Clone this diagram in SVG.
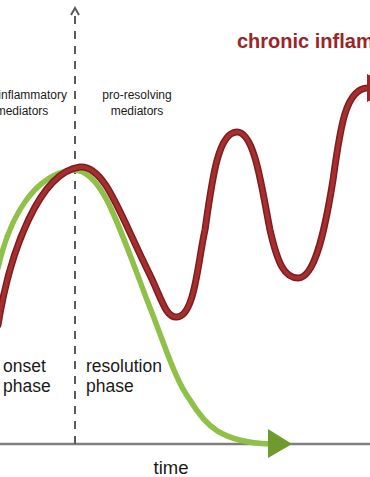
<svg xmlns="http://www.w3.org/2000/svg" width="370" height="477" viewBox="0 0 370 477">
<style>
.lbl{font-family:"Liberation Sans",Arial,sans-serif;fill:#1a1a1a;}
.small{font-size:12px;text-anchor:middle;}
.phase{font-size:17.5px;}
.title{font-family:"Liberation Sans",Arial,sans-serif;font-size:20px;font-weight:bold;fill:#9b2528;}
.redo{fill:none;stroke:#7e1c1e;stroke-width:7;stroke-linecap:round;}
.redi{fill:none;stroke:#a52e2f;stroke-width:4;stroke-linecap:round;}
.green{fill:none;stroke:#8fc149;stroke-width:5.5;stroke-linecap:round;}
</style>
<rect width="370" height="477" fill="#ffffff"/>
<g id="axes">
<line x1="0" y1="444" x2="370" y2="444" stroke="#7f7f7f" stroke-width="2.5"/>
<line x1="75" y1="444" x2="75" y2="12" stroke="#5a5a5a" stroke-width="2" stroke-dasharray="8,7"/>
<polyline points="71,15 75,8 79,15" fill="none" stroke="#5a5a5a" stroke-width="2"/>
</g>
<g id="connectors">
<g id="green-curve">
<path class="green" d="M -2,268 C 10,215 35,175 72,170 C 100,168 115,215 147,300 C 165,345 175,380 190,400 C 205,425 220,442 270,444"/>
<polygon points="268,429 292,444 268,458" fill="#6f9a2e"/>
</g>
<g id="red-curve">
<path class="redo" d="M -2,325 C 10,250 40,172 80,167 C 105,165 120,215 150,275 C 162,300 166,318 177,317 C 195,316 198,260 205,230 C 212,180 218,132 237,132 C 255,132 262,190 270,230 C 278,265 285,278 298,278 C 315,278 325,230 333,180 C 340,130 345,88 368,88"/>
<path class="redi" d="M -2,325 C 10,250 40,172 80,167 C 105,165 120,215 150,275 C 162,300 166,318 177,317 C 195,316 198,260 205,230 C 212,180 218,132 237,132 C 255,132 262,190 270,230 C 278,265 285,278 298,278 C 315,278 325,230 333,180 C 340,130 345,88 368,88"/>
<polygon points="367,74 395,88 367,102" fill="#9b2528"/>
</g>
</g>
<g id="label-proinflammatory">
<text class="lbl small" x="22" y="99">pro-inflammatory</text>
<text class="lbl small" x="22" y="115">mediators</text>
</g>
<g id="label-proresolving">
<text class="lbl small" x="137" y="99">pro-resolving</text>
<text class="lbl small" x="137" y="115">mediators</text>
</g>
<g id="label-chronic">
<text class="title" x="237" y="48">chronic inflammation</text>
</g>
<g id="label-onset">
<text class="lbl phase" x="3" y="372">onset</text>
<text class="lbl phase" x="3" y="392">phase</text>
</g>
<g id="label-resolution">
<text class="lbl phase" x="86" y="372">resolution</text>
<text class="lbl phase" x="86" y="392">phase</text>
</g>
<g id="label-time">
<text class="lbl" x="171" y="474" font-size="18.5" text-anchor="middle">time</text>
</g>
</svg>
